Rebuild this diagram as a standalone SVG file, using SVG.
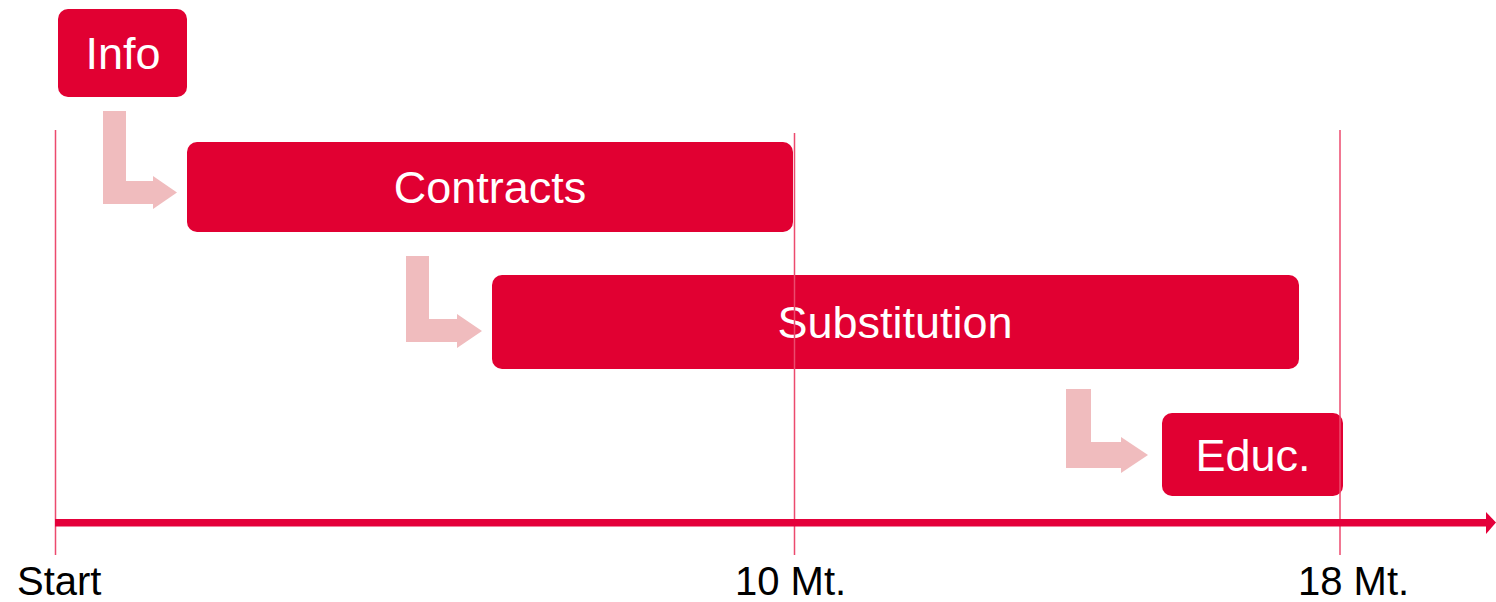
<svg xmlns="http://www.w3.org/2000/svg" width="1496" height="602" viewBox="0 0 1496 602">
<style>
.box{fill:#e10032}
.lbl{font-family:"Liberation Sans",Arial,sans-serif;font-size:45px;fill:#ffffff;text-anchor:middle}
.ax{font-family:"Liberation Sans",Arial,sans-serif;font-size:40px;fill:#000000}
.arr{fill:#f0bcbe}
.grid{stroke:#ec4a6e;stroke-width:1.5;fill:none}
</style>
<rect width="1496" height="602" fill="#ffffff"/>
<g id="connectors">
<polygon class="arr" points="103,111 126,111 126,181 153,181 153,176 177,192.5 153,209 153,204 103,204"/>
<polygon class="arr" points="406,256 429,256 429,319 457,319 457,314 482,331 457,348 457,342 406,342"/>
<polygon class="arr" points="1066,389 1091,389 1091,442 1121,442 1121,437 1148,455 1121,473 1121,468 1066,468"/>
</g>
<g id="info">
<rect class="box" x="58" y="9" width="129" height="88" rx="10"/>
<text class="lbl" x="123" y="69">Info</text>
</g>
<g id="contracts">
<rect class="box" x="187" y="142" width="606" height="90" rx="10"/>
<text class="lbl" x="490" y="203">Contracts</text>
</g>
<g id="substitution">
<rect class="box" x="492" y="275" width="807" height="94" rx="10"/>
<text class="lbl" x="895" y="338">Substitution</text>
</g>
<g id="educ">
<rect class="box" x="1162" y="413" width="181" height="83" rx="10"/>
<text class="lbl" x="1253" y="471">Educ.</text>
</g>
<g id="timeline">
<line class="grid" x1="55.5" y1="130" x2="55.5" y2="555"/>
<line class="grid" x1="794.5" y1="133" x2="794.5" y2="555"/>
<line class="grid" x1="1340" y1="130" x2="1340" y2="555"/>
<rect x="55" y="519" width="1434" height="7.5" fill="#e4003a"/>
<polygon points="1486,512 1496,522.5 1486,534" fill="#e4003a"/>
<text class="ax" x="17" y="595">Start</text>
<text class="ax" x="735" y="595">10 Mt.</text>
<text class="ax" x="1298" y="595">18 Mt.</text>
</g>
</svg>
